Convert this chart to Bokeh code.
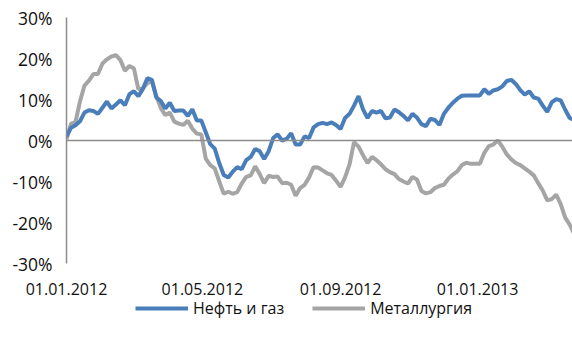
import pandas as pd
from bokeh.plotting import figure
from bokeh.layouts import column
from bokeh.models import (ColumnDataSource, Span, Legend, LegendItem,
                          FixedTicker, DatetimeTickFormatter, NumeralTickFormatter, Range1d)
from bokeh.embed import file_html
from bokeh.resources import INLINE

# Sector index performance vs 01.01.2012, %, sampled every 4 calendar days
start_date = "2012-01-01"
step_days = 4

oil_gas = [
    1.0, 3.1, 3.7, 4.7, 6.8, 7.4, 7.2, 6.5, 8.0, 9.5,
    7.8, 8.8, 9.8, 8.6, 11.3, 12.0, 10.8, 12.6, 15.2, 14.8,
    10.5, 9.6, 7.8, 9.2, 7.2, 7.3, 7.3, 6.0, 7.6, 4.9,
    4.9, 2.0, -0.9, -2.0, -5.5, -8.4, -9.0, -7.6, -6.5, -7.0,
    -4.8, -4.0, -2.1, -2.6, -4.5, -2.6, 0.6, 1.5, 0.0, 0.4,
    1.8, -1.0, -1.0, 1.0, 0.6, 3.2, 4.0, 4.3, 4.0, 4.4,
    3.8, 2.8, 5.5, 6.5, 8.5, 10.8, 7.6, 5.5, 7.2, 6.8,
    7.2, 5.4, 5.6, 7.6, 6.9, 6.0, 4.9, 6.5, 5.6, 4.0,
    3.5, 5.3, 5.0, 3.8, 6.5, 8.0, 9.2, 10.2, 10.9, 11.0,
    11.0, 11.0, 11.0, 12.5, 11.4, 12.2, 12.5, 13.2, 14.5, 14.8,
    13.8, 12.3, 11.2, 12.0, 10.5, 10.2, 8.5, 7.0, 9.3, 10.1,
    9.8, 7.5, 5.5, 5.0,
]

metals = [
    0.3, 4.1, 4.5, 9.5, 13.4, 14.6, 16.2, 16.2, 18.8, 19.8,
    20.5, 20.8, 19.6, 17.0, 18.2, 17.6, 12.5, 12.7, 14.0, 14.4,
    10.8, 7.9, 6.2, 6.8, 4.6, 4.1, 3.8, 4.8, 2.9, 1.7,
    1.5, -4.4, -6.0, -6.8, -10.0, -13.0, -12.5, -13.0, -12.6, -10.5,
    -8.9, -8.5, -6.3, -8.2, -10.4, -8.6, -8.9, -8.8, -10.4, -10.3,
    -10.8, -13.5, -11.6, -10.8, -9.0, -6.5, -6.6, -7.3, -8.0, -8.4,
    -9.8, -11.3, -9.0, -5.8, -0.4, -1.5, -3.6, -5.5, -4.0, -4.8,
    -5.8, -7.0, -7.7, -8.2, -9.4, -10.0, -10.5, -8.9, -9.5, -12.3,
    -12.9, -12.6, -11.6, -11.1, -10.8, -9.3, -8.3, -7.5, -6.0, -5.4,
    -5.7, -5.7, -5.7, -3.0, -1.4, -1.0, 0.0, -1.5, -3.4, -4.6,
    -5.5, -6.0, -6.8, -7.6, -8.5, -10.4, -12.2, -14.6, -14.3, -13.2,
    -15.5, -18.8, -20.5, -22.8,
]

series_names = ["Нефть и газ", "Металлургия"]
series_colors = ["#4a7ebb", "#a5a5a5"]
tick_dates = ["2012-01-01", "2012-05-01", "2012-09-01", "2013-01-01"]
y_ticks = [-30, -20, -10, 0, 10, 20, 30]

dates = pd.date_range(start_date, periods=len(oil_gas), freq=f"{step_days}D")
src = ColumnDataSource(dict(date=dates, oil=[v / 100 for v in oil_gas],
                            met=[v / 100 for v in metals]))

FONT = "Open Sans"
FSIZE = "16px"
TEXT = "#111111"
AXIS = "#8c8c8c"
LINE_W = 4

p = figure(width=572, height=298, x_axis_type="datetime",
           output_backend="svg", toolbar_location=None,
           min_border_left=66, min_border_right=0,
           min_border_top=17, min_border_bottom=35)
p.x_range = Range1d(pd.Timestamp("2012-01-01"), pd.Timestamp("2013-03-26 12:00"))
p.y_range = Range1d(-0.30, 0.30)
p.outline_line_color = None
p.grid.visible = False
p.background_fill_color = "white"
p.border_fill_color = "white"

# horizontal axis line crossing at zero
p.add_layout(Span(location=0, dimension="width", line_color=AXIS, line_width=1.5))

r_met = p.line("date", "met", source=src, line_color=series_colors[1], line_width=LINE_W)
r_oil = p.line("date", "oil", source=src, line_color=series_colors[0], line_width=LINE_W)

ya = p.yaxis[0]
ya.ticker = FixedTicker(ticks=[t / 100 for t in y_ticks])
ya.formatter = NumeralTickFormatter(format="0%")
ya.major_tick_line_color = None
ya.minor_tick_line_color = None
ya.axis_line_color = AXIS
ya.axis_line_width = 1.5
ya.major_label_standoff = 8
ya.major_label_text_font = FONT
ya.major_label_text_font_size = "17.5px"
ya.major_label_text_color = TEXT

xa = p.xaxis[0]
xa.ticker = FixedTicker(ticks=[pd.Timestamp(d).value / 1e6 for d in tick_dates])
xa.formatter = DatetimeTickFormatter(days="%d.%m.%Y", months="%d.%m.%Y", years="%d.%m.%Y")
xa.major_tick_line_color = None
xa.minor_tick_line_color = None
xa.axis_line_color = None
xa.major_label_standoff = 13
xa.major_label_text_font = FONT
xa.major_label_text_font_size = FSIZE
xa.major_label_text_color = TEXT

# legend strip under the chart; its lines sit outside the strip's visible range
leg = figure(width=572, height=51, output_backend="svg", toolbar_location=None,
             x_range=Range1d(0, 1), y_range=Range1d(0, 1),
             min_border=0, x_axis_location=None, y_axis_location=None)
leg.outline_line_color = None
leg.grid.visible = False
leg_oil = leg.line("date", "oil", source=src, line_color=series_colors[0], line_width=LINE_W)
leg_met = leg.line("date", "met", source=src, line_color=series_colors[1], line_width=LINE_W)

legend = Legend(items=[LegendItem(label=series_names[0], renderers=[leg_oil]),
                       LegendItem(label=series_names[1], renderers=[leg_met])],
                orientation="horizontal", location=(69, 30),
                glyph_width=53, glyph_height=16, label_standoff=5, spacing=28,
                padding=0, margin=0, border_line_color=None,
                background_fill_alpha=0,
                label_text_font=FONT, label_text_font_size=FSIZE,
                label_text_color=TEXT)
leg.add_layout(legend, "center")

page = column(p, leg, spacing=0)
open("out.html", "w").write(file_html(page, INLINE))
